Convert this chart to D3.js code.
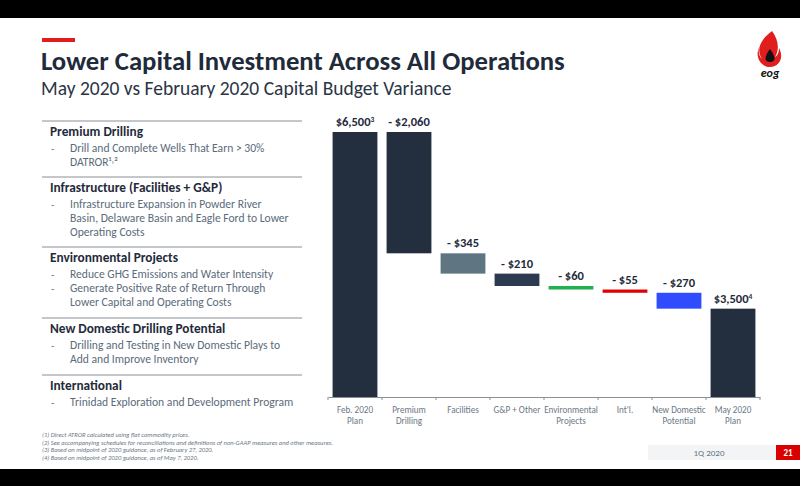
<!DOCTYPE html>
<html><head><meta charset="utf-8">
<script src="https://cdn.jsdelivr.net/npm/d3@7"></script>
<style>body{margin:0;background:#fff}svg{font-family:Calibri,Carlito,"Open Sans",sans-serif}</style>
</head><body><div id="chart"></div>
<script>
// waterfall data
const categories = ["Feb. 2020|Plan", "Premium|Drilling", "Facilities", "G&P + Other", "Environmental|Projects", "Int'l.", "New Domestic|Potential", "May 2020|Plan"];
const values = [6500, -2060, -345, -210, -60, -55, -270, 3500];
const valueLabels = ["$6,500", "- $2,060", "- $345", "- $210", "- $60", "- $55", "- $270", "$3,500"];
const labelSups = ["3", "", "", "", "", "", "", "4"];
const barColors = ["#232f3e", "#232f3e", "#5f7682", "#2b3a4e", "#22b14c", "#e00000", "#2f4cff", "#232f3e"];

const sections = [
  {head: "Premium Drilling", items: [["Drill and Complete Wells That Earn > 30%", "DATROR¹˒²"]]},
  {head: "Infrastructure (Facilities + G&P)", items: [["Infrastructure Expansion in Powder River", "Basin, Delaware Basin and Eagle Ford to Lower", "Operating Costs"]]},
  {head: "Environmental Projects", items: [["Reduce GHG Emissions and Water Intensity"], ["Generate Positive Rate of Return Through", "Lower Capital and Operating Costs"]]},
  {head: "New Domestic Drilling Potential", items: [["Drilling and Testing in New Domestic Plays to", "Add and Improve Inventory"]]},
  {head: "International", items: [["Trinidad Exploration and Development Program"]]}
];
const footnotes = ["(1)   Direct ATROR calculated using flat commodity prices.",
  "(2)   See accompanying schedules for reconciliations and definitions of non-GAAP measures and other measures.",
  "(3)   Based on midpoint of 2020 guidance, as of February 27, 2020.",
  "(4)   Based on midpoint of 2020 guidance, as of May 7, 2020."];

const W = 800, H = 486;
const svg = d3.select("#chart").append("svg").attr("width", W).attr("height", H);

svg.append("rect").attr("width", W).attr("height", 18).attr("fill", "#000");
svg.append("rect").attr("y", 469).attr("width", W).attr("height", 17).attr("fill", "#000");

// title
svg.append("rect").attr("x", 42).attr("y", 38).attr("width", 33).attr("height", 4).attr("fill", "#e01e1e");
svg.append("text").attr("x", 41).attr("y", 70).attr("font-size", 26.7).attr("font-weight", "bold").attr("fill", "#1f2b3b")
  .text("Lower Capital Investment Across All Operations");
svg.append("text").attr("x", 41).attr("y", 95).attr("font-size", 19.5).attr("fill", "#2a3444")
  .text("May 2020 vs February 2020 Capital Budget Variance");

// logo
const logo = svg.append("g").attr("transform", "translate(770,55)");
logo.append("path").attr("d", "M2,-24 C-14,-12 -12,-2 -8,4 C-12,0 -12,-6 -10,-9 C-16,0 -10,12 0,12 C10,12 14,2 9,-7 C9,-2 7,1 5,2 C10,-6 8,-16 2,-24Z").attr("fill", "#e01e1e");
logo.append("path").attr("d", "M0,-6 C-6,2 -6,7 0,7 C6,7 6,2 0,-6Z").attr("fill", "#111");
logo.append("text").attr("x", 0).attr("y", 22).attr("text-anchor", "middle").attr("font-size", 12).attr("font-weight", "bold").attr("font-style", "italic").attr("fill", "#111").text("eog");

// left text list
const lineYs = [121, 177, 247, 318, 375];
sections.forEach((s, si) => {
  const y = lineYs[si];
  svg.append("line").attr("x1", 42).attr("x2", 302).attr("y1", y).attr("y2", y).attr("stroke", "#8a8f96").attr("stroke-width", 1);
  svg.append("text").attr("x", 50).attr("y", y + 15).attr("font-size", 13.3).attr("font-weight", "bold").attr("fill", "#1f2b3b").text(s.head);
  let ly = y + 31;
  s.items.forEach(it => {
    svg.append("text").attr("x", 51).attr("y", ly).attr("font-size", 11).attr("fill", "#5b6b7b").text("-");
    it.forEach(t => {
      svg.append("text").attr("x", 70).attr("y", ly).attr("font-size", 11.6).attr("fill", "#5b6b7b").text(t);
      ly += 14.2;
    });
  });
});

// chart
const x = d3.scaleBand().domain(categories).range([328, 760]).paddingInner(0.17).paddingOuter(0.085);
const yS = d3.scaleLinear().domain([2000, 6500]).range([397, 132]);

let run = 0;
const bars = values.map((v, i) => {
  let lo, hi;
  if (i === 0 || i === values.length - 1) { lo = 2000; hi = v; run = v; }
  else { hi = run; run += v; lo = run; }
  return {cat: categories[i], lo, hi, i};
});

const g = svg.append("g");
g.selectAll("rect.bar").data(bars).join("rect").attr("class", "bar")
  .attr("x", d => x(d.cat)).attr("width", x.bandwidth())
  .attr("y", d => yS(d.hi)).attr("height", d => Math.max(3, yS(d.lo) - yS(d.hi)))
  .attr("fill", d => barColors[d.i]);

const lbl = g.selectAll("text.val").data(bars).join("text").attr("class", "val")
  .attr("x", d => x(d.cat) + x.bandwidth() / 2).attr("y", d => yS(d.hi) - 6)
  .attr("text-anchor", "middle").attr("font-size", 12.5).attr("font-weight", "bold").attr("fill", "#1f2b3b");
lbl.append("tspan").text(d => valueLabels[d.i]);
lbl.append("tspan").attr("font-size", 7.5).attr("dy", -4).text(d => labelSups[d.i]);

const axis = g.append("g").attr("transform", "translate(0,397)")
  .call(d3.axisBottom(x).tickSize(0).tickFormat(""));
axis.select(".domain").attr("stroke", "#8a8f96");
const edges = categories.map(c => x(c) - x.step() * x.paddingInner() / 2).concat([760]);
axis.selectAll("line.edge").data(edges).join("line").attr("class", "edge")
  .attr("x1", d => d).attr("x2", d => d).attr("y1", 0).attr("y2", 3).attr("stroke", "#8a8f96");

categories.forEach(c => {
  c.split("|").forEach((t, k) => {
    g.append("text").attr("x", x(c) + x.bandwidth() / 2).attr("y", 413 + k * 11)
      .attr("text-anchor", "middle").attr("font-size", 9.1).attr("fill", "#6b7785").text(t);
  });
});

// footnotes
footnotes.forEach((f, i) => {
  svg.append("text").attr("x", 42).attr("y", 437 + i * 7.5).attr("font-size", 6.5).attr("font-style", "italic").attr("fill", "#6b7785").text(f);
});

// footer
svg.append("rect").attr("x", 648).attr("y", 445).attr("width", 128).attr("height", 15).attr("fill", "#f2f4f5");
svg.append("text").attr("x", 709).attr("y", 456).attr("text-anchor", "middle").attr("font-size", 9).attr("fill", "#6b7785").text("1Q 2020");
svg.append("rect").attr("x", 776).attr("y", 445).attr("width", 24).attr("height", 15).attr("fill", "#d90000");
svg.append("text").attr("x", 788).attr("y", 456).attr("text-anchor", "middle").attr("font-size", 9).attr("font-weight", "bold").attr("fill", "#fff").text("21");
</script></body></html>
